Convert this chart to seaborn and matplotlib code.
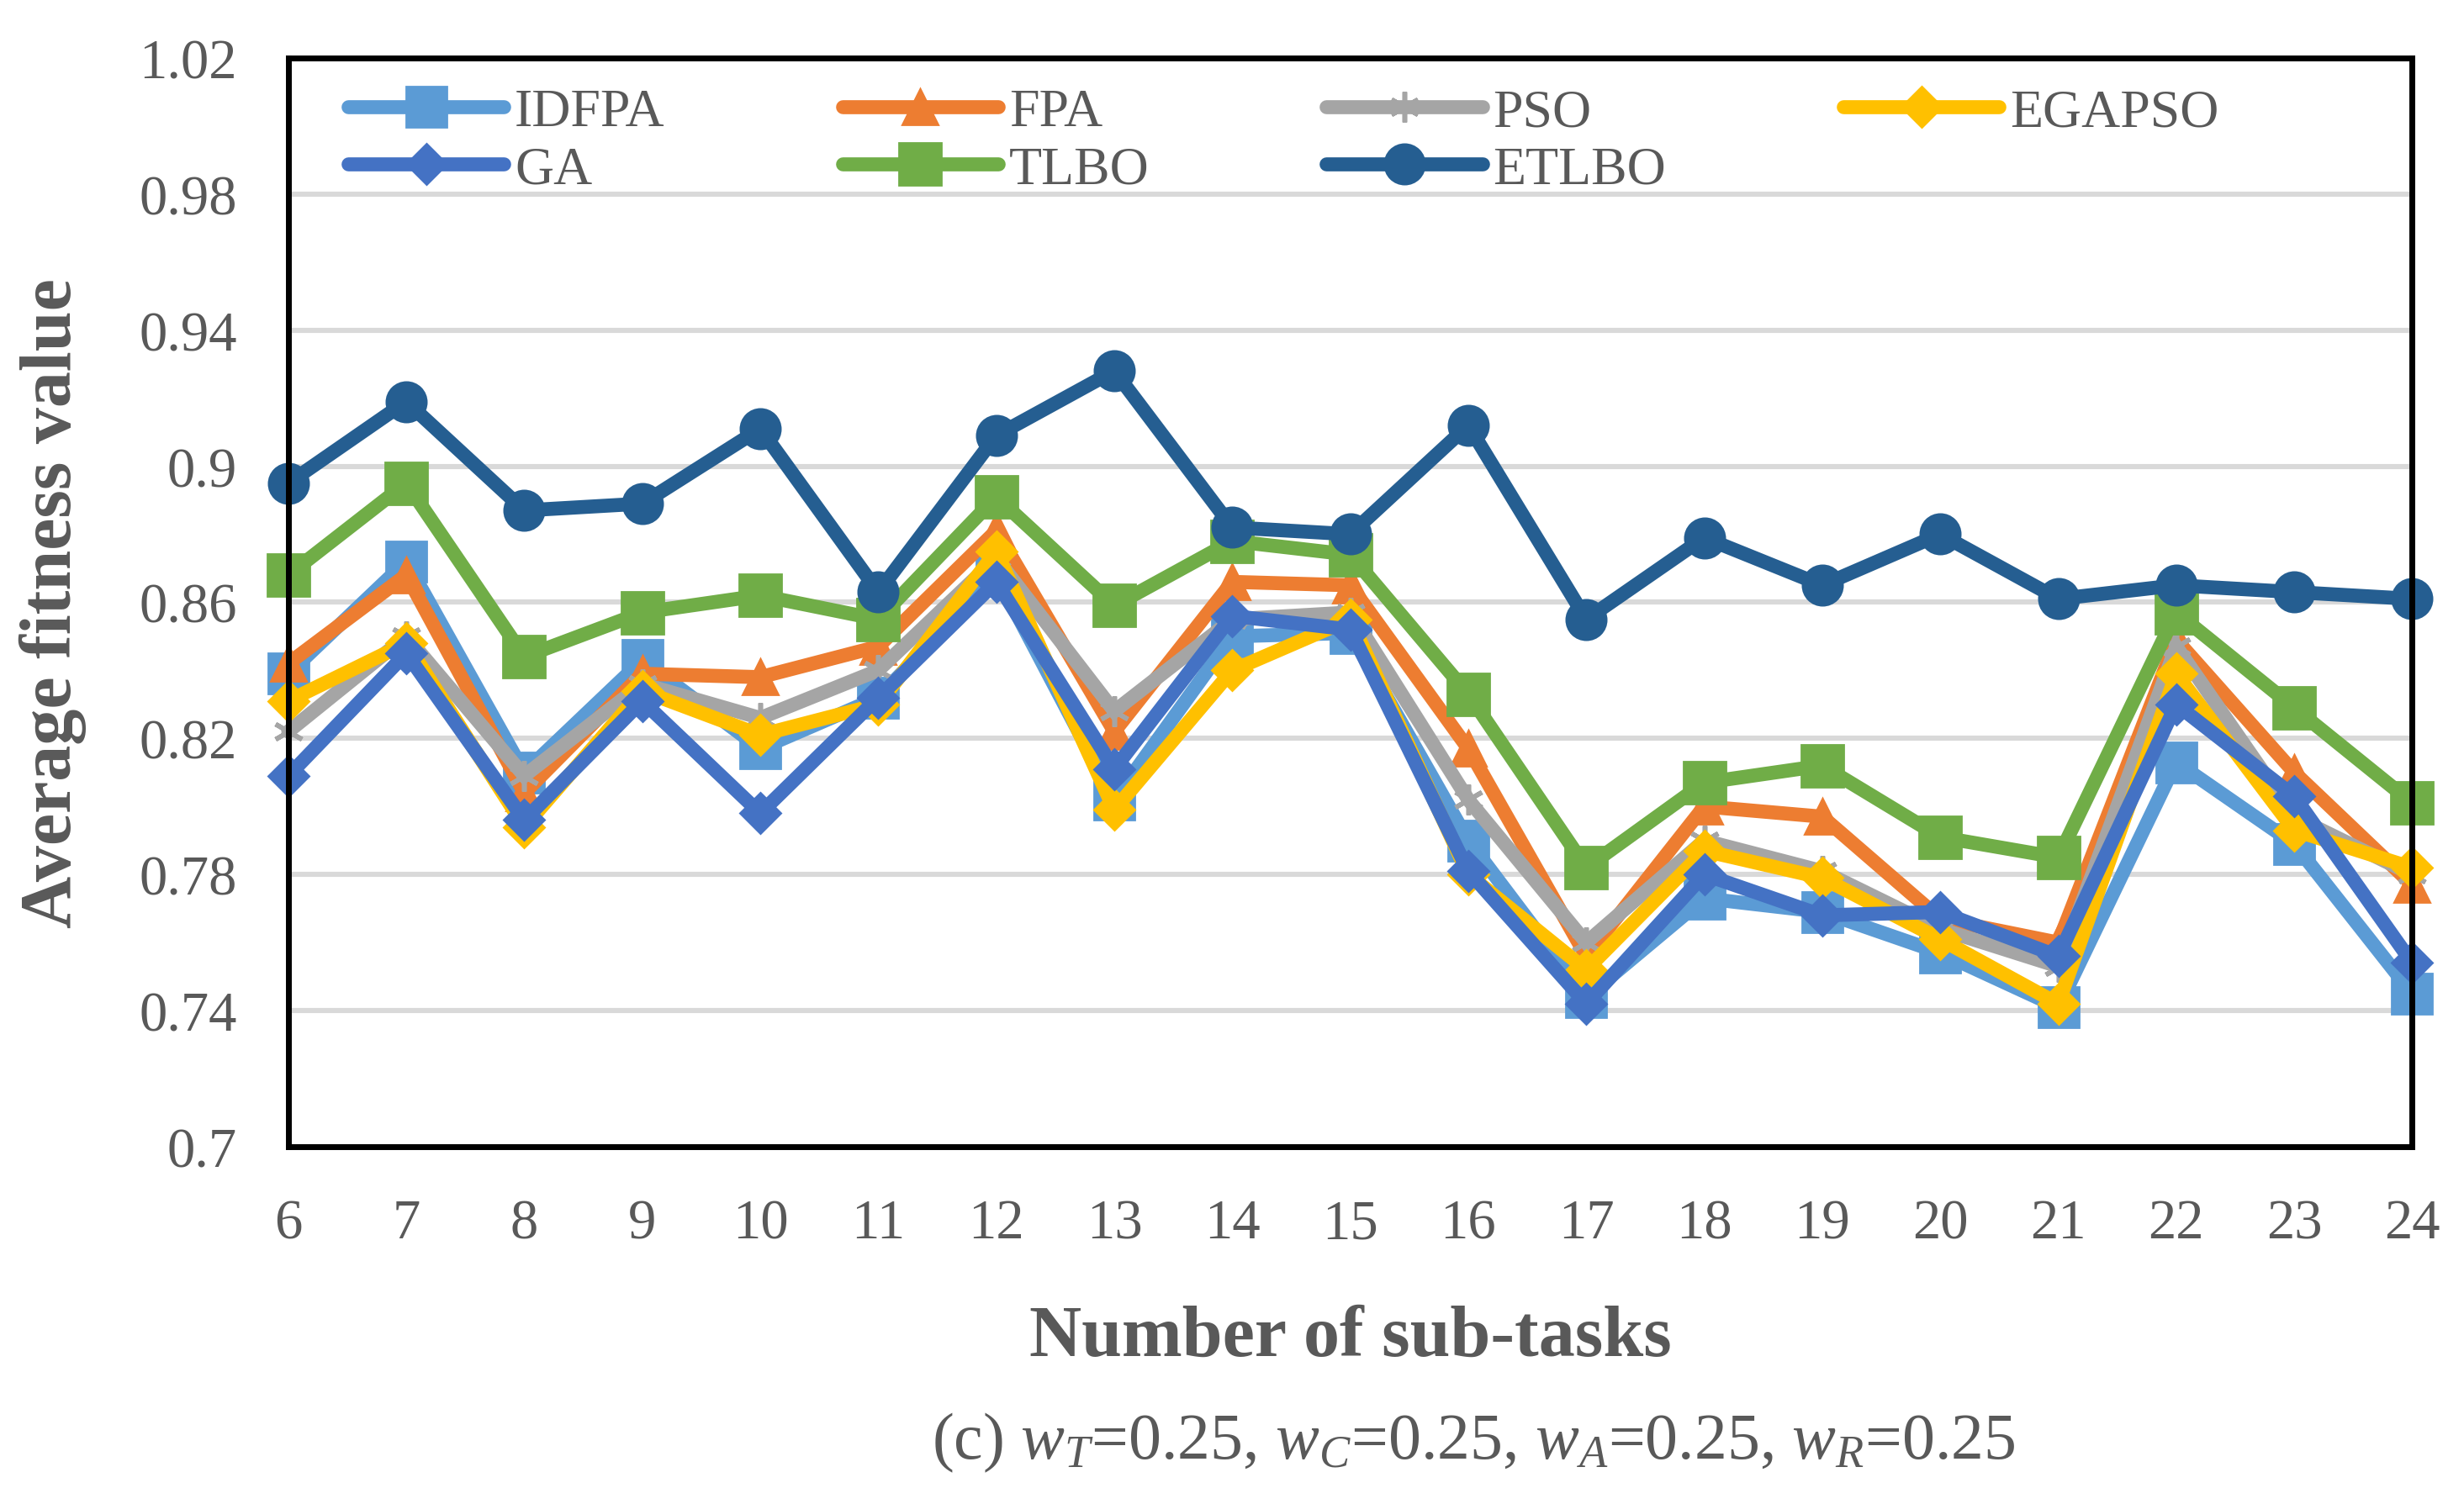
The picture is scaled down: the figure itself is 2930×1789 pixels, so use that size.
import numpy as np
import pandas as pd
import seaborn as sns
import matplotlib.pyplot as plt
from matplotlib.ticker import FuncFormatter

sns.set_theme(style="white")
plt.rcParams['font.family'] = ['Liberation Serif', 'DejaVu Serif']
plt.rcParams['mathtext.fontset'] = 'custom'
plt.rcParams['mathtext.rm'] = 'Liberation Serif'
plt.rcParams['mathtext.it'] = 'Liberation Serif:italic'

sub_tasks = list(range(6, 25))

idfpa = [0.839, 0.872, 0.810, 0.843, 0.817, 0.832, 0.868, 0.802, 0.850, 0.851,
         0.790, 0.744, 0.773, 0.769, 0.757, 0.741, 0.813, 0.789, 0.745]
fpa = [0.842, 0.868, 0.804, 0.839, 0.838, 0.847, 0.881, 0.822, 0.866, 0.865,
       0.817, 0.756, 0.800, 0.797, 0.767, 0.760, 0.849, 0.810, 0.777]
pso = [0.822, 0.850, 0.809, 0.836, 0.826, 0.840, 0.873, 0.828, 0.855, 0.857,
       0.802, 0.760, 0.790, 0.781, 0.764, 0.753, 0.847, 0.797, 0.780]
egapso = [0.831, 0.848, 0.794, 0.834, 0.821, 0.830, 0.875, 0.799, 0.840, 0.855,
          0.780, 0.752, 0.787, 0.779, 0.761, 0.742, 0.839, 0.793, 0.782]
ga = [0.809, 0.845, 0.796, 0.831, 0.798, 0.832, 0.866, 0.811, 0.856, 0.852,
      0.781, 0.742, 0.780, 0.768, 0.769, 0.756, 0.830, 0.803, 0.754]
tlbo = [0.868, 0.895, 0.844, 0.857, 0.862, 0.855, 0.891, 0.859, 0.878, 0.874,
        0.833, 0.782, 0.807, 0.812, 0.791, 0.785, 0.857, 0.829, 0.801]
etlbo = [0.895, 0.919, 0.887, 0.889, 0.911, 0.863, 0.909, 0.928, 0.882, 0.880,
         0.912, 0.855, 0.879, 0.865, 0.880, 0.861, 0.865, 0.863, 0.861]

names = ["IDFPA", "FPA", "PSO", "EGAPSO", "GA", "TLBO", "ETLBO"]
series = [idfpa, fpa, pso, egapso, ga, tlbo, etlbo]
colors = ["#5B9BD5", "#ED7D31", "#A5A5A5", "#FFC000", "#4472C4", "#70AD47", "#255E91"]
markers = ["s", "^", (6, 2, 0), "D", "D", "s", "o"]
msizes = [17, 15, 13, 12, 12, 18, 17]

y_ticks = [0.7, 0.74, 0.78, 0.82, 0.86, 0.9, 0.94, 0.98, 1.02]

text_gray = "#595959"

fig, ax = plt.subplots(figsize=(14.65, 8.95), dpi=200)
fig.subplots_adjust(left=0.117, right=0.979, top=0.961, bottom=0.2374)

for name, vals, c, m, ms in zip(names, series, colors, markers, msizes):
    df = pd.DataFrame({"n": sub_tasks, "v": vals})
    sns.lineplot(data=df, x="n", y="v", ax=ax, color=c, linewidth=6,
                 marker=m, markersize=ms, markeredgecolor=c,
                 markerfacecolor=c, markeredgewidth=2 if m == (6, 2, 0) else 1,
                 label=name, clip_on=False, solid_joinstyle="miter")

ax.set_xlim(6, 24)
ax.set_ylim(0.7, 1.02)
ax.set_xticks(sub_tasks)
ax.set_yticks(y_ticks)
ax.yaxis.set_major_formatter(FuncFormatter(lambda v, p: f"{v:g}"))
ax.grid(axis="y", color="#D9D9D9", linewidth=2.2)
ax.set_axisbelow(True)
for s in ax.spines.values():
    s.set_color("black")
    s.set_linewidth(2.5)
ax.tick_params(axis="y", direction="in", length=8, width=2.5, color="black",
               pad=22, labelsize=24, labelcolor=text_gray)
ax.tick_params(axis="x", length=0, pad=22, labelsize=24, labelcolor=text_gray)

ax.set_xlabel("Number of sub-tasks", fontsize=31, fontweight="bold", color=text_gray)
ax.set_ylabel("Average fitness value", fontsize=31, fontweight="bold", color=text_gray)
ax.xaxis.set_label_coords(0.5, -0.145)
ax.yaxis.set_label_coords(-0.095, 0.5)

# matplotlib fills legend columns first; reorder so rows read like the original
handles, labels = ax.get_legend_handles_labels()
order = [0, 4, 1, 5, 2, 6, 3]
ax.legend([handles[i] for i in order], [labels[i] for i in order],
          loc="upper left", bbox_to_anchor=(0.008, 1.012), ncol=4, frameon=False,
          fontsize=23, handlelength=2.9, handletextpad=0.2, columnspacing=3.3,
          labelspacing=0.15, borderpad=0.3)
for txt in ax.get_legend().get_texts():
    txt.set_color(text_gray)

fig.text(0.598, 0.041, r"(c) $w_T$=0.25, $w_C$=0.25, $w_A$=0.25, $w_R$=0.25",
         ha="center", va="center", fontsize=28, color=text_gray)

fig.savefig("out.png", dpi=200)
